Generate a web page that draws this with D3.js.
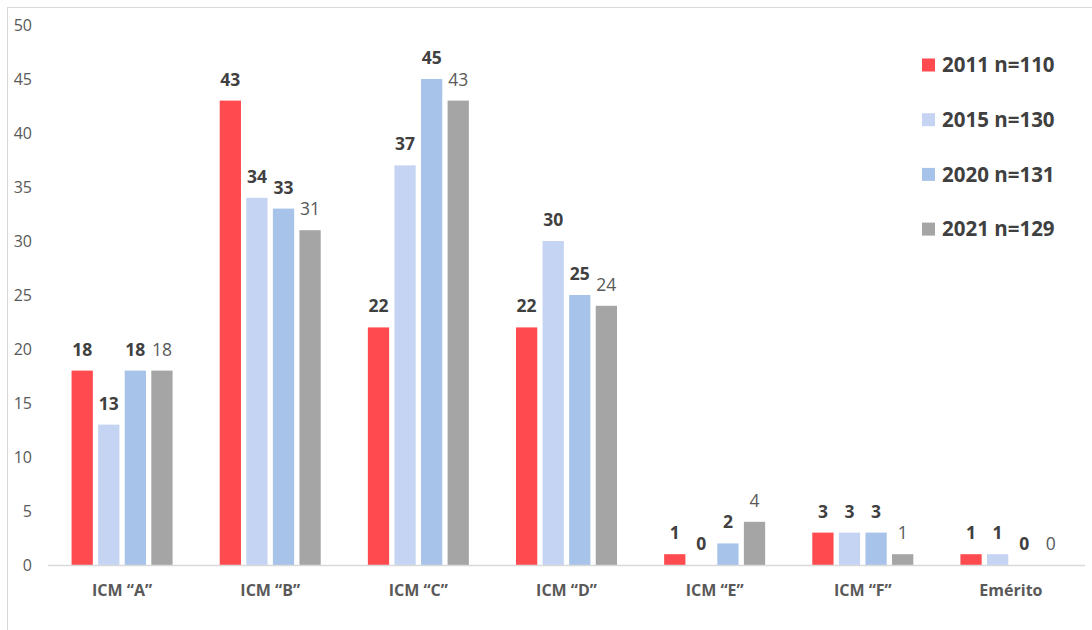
<!DOCTYPE html>
<html>
<head>
<meta charset="utf-8">
<script src="https://cdn.jsdelivr.net/npm/d3@7"></script>
<style>
  body { margin: 0; background: #fff; }
  text { font-family: "Open Sans", "Noto Sans", sans-serif; }
</style>
</head>
<body>
<div id="chart"></div>
<script>
const categories = ["ICM \u201CA\u201D", "ICM \u201CB\u201D", "ICM \u201CC\u201D", "ICM \u201CD\u201D", "ICM \u201CE\u201D", "ICM \u201CF\u201D", "Emérito"];
const seriesNames = ["2011 n=110", "2015 n=130", "2020 n=131", "2021 n=129"];
const v2011 = [18, 43, 22, 22, 1, 3, 1];
const v2015 = [13, 34, 37, 30, 0, 3, 1];
const v2020 = [18, 33, 45, 25, 2, 3, 0];
const v2021 = [18, 31, 43, 24, 4, 1, 0];
const yTicks = [0, 5, 10, 15, 20, 25, 30, 35, 40, 45, 50];

const allValues = [v2011, v2015, v2020, v2021];
const colors = ["#FF4B4F", "#C5D4F3", "#A7C3E9", "#A5A5A5"];
const labelBold = [true, true, true, false];

const width = 1092, height = 630;
const plot = { left: 48, right: 1085, top: 25, bottom: 565 };

const svg = d3.select("#chart")
  .append("svg")
  .attr("width", width)
  .attr("height", height);

// chart frame
svg.append("rect")
  .attr("x", 7.5)
  .attr("y", 7.5)
  .attr("width", width + 10)
  .attr("height", height + 10)
  .style("fill", "none")
  .style("stroke", "#d9d9d9")
  .style("stroke-width", 1);

const y = d3.scaleLinear()
  .domain([0, 50])
  .range([plot.bottom, plot.top]);

const x0 = d3.scaleBand()
  .domain(categories)
  .range([plot.left, plot.right]);

const groupW = 101;
const x1 = d3.scaleBand()
  .domain(d3.range(seriesNames.length))
  .range([x0.bandwidth() / 2 - groupW / 2, x0.bandwidth() / 2 + groupW / 2])
  .paddingInner(0.2);

// y tick labels
svg.append("g")
  .selectAll("text")
  .data(yTicks)
  .join("text")
  .attr("x", 32)
  .attr("y", d => y(d))
  .attr("dy", "0.35em")
  .attr("text-anchor", "end")
  .style("font-size", "16px")
  .style("fill", "#595959")
  .text(d => d);

// bars
const groups = svg.append("g")
  .selectAll("g")
  .data(categories)
  .join("g")
  .attr("transform", d => `translate(${x0(d)},0)`);

groups.selectAll("rect")
  .data((d, i) => allValues.map((vals, s) => ({ s: s, v: vals[i] })))
  .join("rect")
  .attr("x", d => x1(d.s))
  .attr("y", d => y(d.v))
  .attr("width", x1.bandwidth())
  .attr("height", d => y(0) - y(d.v))
  .style("fill", d => colors[d.s]);

groups.selectAll("text")
  .data((d, i) => allValues.map((vals, s) => ({ s: s, v: vals[i] })))
  .join("text")
  .attr("x", d => x1(d.s) + x1.bandwidth() / 2)
  .attr("y", d => y(d.v) - 15)
  .attr("text-anchor", "middle")
  .style("font-size", "17.5px")
  .style("font-weight", d => labelBold[d.s] ? "bold" : "normal")
  .style("fill", d => labelBold[d.s] ? "#404040" : "#595959")
  .text(d => d.v);

// baseline
svg.append("line")
  .attr("x1", plot.left)
  .attr("x2", plot.right)
  .attr("y1", y(0) + 0.5)
  .attr("y2", y(0) + 0.5)
  .style("stroke", "#d9d9d9")
  .style("stroke-width", 1.5);

// category labels
svg.append("g")
  .selectAll("text")
  .data(categories)
  .join("text")
  .attr("x", d => x0(d) + x0.bandwidth() / 2)
  .attr("y", 596)
  .attr("text-anchor", "middle")
  .style("font-size", "16px")
  .style("font-weight", "bold")
  .style("fill", "#595959")
  .text(d => d);

// legend
const legend = svg.append("g")
  .selectAll("g")
  .data(seriesNames)
  .join("g")
  .attr("transform", (d, i) => `translate(922, ${65 + i * 54.7})`);

legend.append("rect")
  .attr("x", 0)
  .attr("y", -6.5)
  .attr("width", 13)
  .attr("height", 13)
  .style("fill", (d, i) => colors[i]);

legend.append("text")
  .attr("x", 20)
  .attr("y", 0)
  .attr("dy", "0.36em")
  .style("font-size", "20.5px")
  .style("font-weight", "bold")
  .style("fill", "#404040")
  .text(d => d);
</script>
</body>
</html>
